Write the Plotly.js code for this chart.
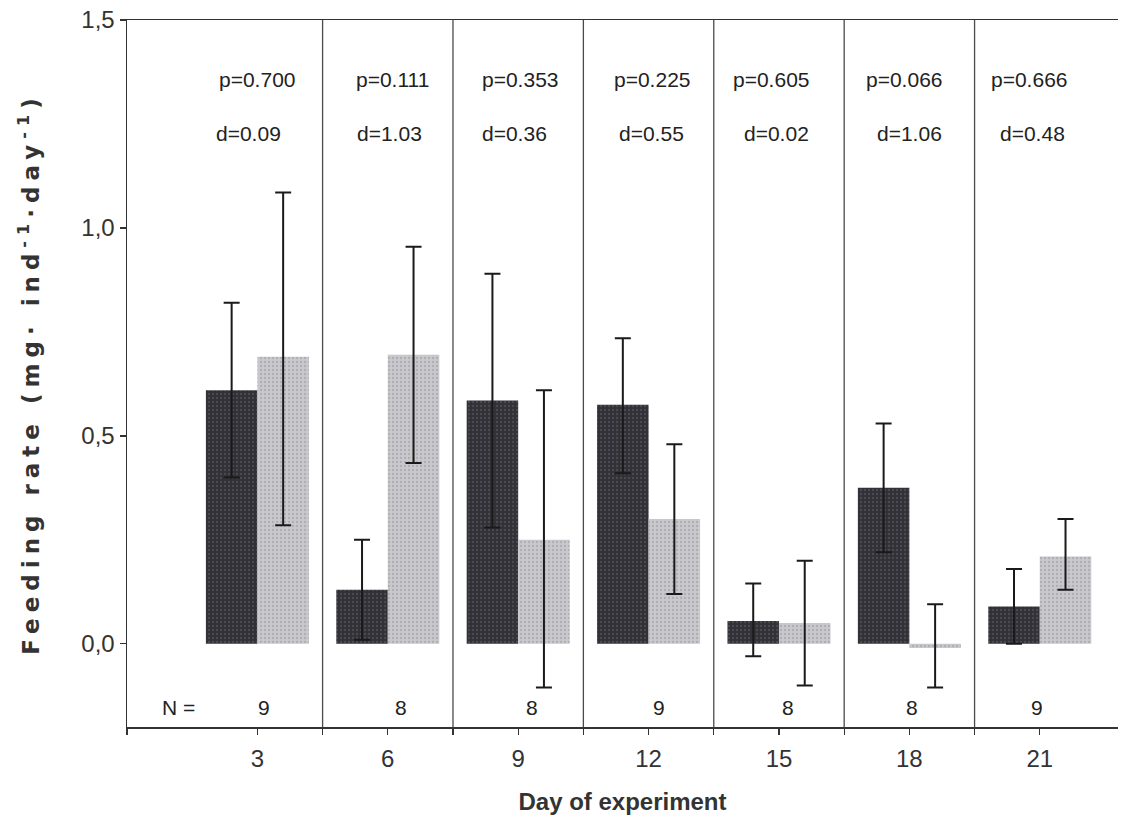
<!DOCTYPE html>
<html>
<head>
<meta charset="utf-8">
<script src="https://cdn.plot.ly/plotly-3.0.1.min.js"></script>
<style>html,body{margin:0;padding:0;background:#fff;}#chart{width:1135px;height:830px;}</style>
</head>
<body>
<div id="chart"></div>
<script>
// ---- data ----
const days = [3, 6, 9, 12, 15, 18, 21];
const darkMean  = [0.61, 0.13, 0.585, 0.575, 0.055, 0.375, 0.09];
const darkUpper = [0.82, 0.25, 0.89, 0.735, 0.145, 0.53, 0.18];
const darkLower = [0.40, 0.01, 0.28, 0.41, -0.03, 0.22, 0.0];
const lightMean  = [0.69, 0.695, 0.25, 0.30, 0.05, -0.01, 0.21];
const lightUpper = [1.085, 0.955, 0.61, 0.48, 0.20, 0.095, 0.30];
const lightLower = [0.285, 0.435, -0.105, 0.12, -0.10, -0.105, 0.13];
const pLabels = ['p=0.700', 'p=0.111', 'p=0.353', 'p=0.225', 'p=0.605', 'p=0.066', 'p=0.666'];
const dLabels = ['d=0.09', 'd=1.03', 'd=0.36', 'd=0.55', 'd=0.02', 'd=1.06', 'd=0.48'];
const nLabels = ['9', '8', '8', '9', '8', '8', '9'];
const separators = [4.5, 7.5, 10.5, 13.5, 16.5, 19.5];

// ---- layout helpers (positions, not data) ----
const pShift = [0, 5, 2, 4, -7, -5, -10];
const dShift = [-9, 2, -4, 3, -2, 0, -7];
const nShift = [7, 13, 14, 10, 9, 3, -3];

const sub = (a, b) => a.map((v, i) => v - b[i]);

const errStyle = {type: 'data', symmetric: false, color: '#1a1a1a', thickness: 2, width: 8};

const traces = [
  {
    type: 'bar', x: days, y: darkMean, name: 'dark',
    marker: {color: '#313137', line: {width: 0},
             pattern: {shape: '.', fillmode: 'replace', bgcolor: '#313137', fgcolor: '#4b4b52', size: 4, solidity: 0.25}},
    error_y: Object.assign({array: sub(darkUpper, darkMean), arrayminus: sub(darkMean, darkLower)}, errStyle),
    hoverinfo: 'x+y'
  },
  {
    type: 'bar', x: days, y: lightMean, name: 'light',
    marker: {color: '#c7c7cb', line: {width: 0},
             pattern: {shape: '.', fillmode: 'replace', bgcolor: '#c9c9cd', fgcolor: '#adadb3', size: 4, solidity: 0.25}},
    error_y: Object.assign({array: sub(lightUpper, lightMean), arrayminus: sub(lightMean, lightLower)}, errStyle),
    hoverinfo: 'x+y'
  }
];

const SANS = '"Liberation Sans", Arial, sans-serif';
const annFont = {family: SANS, size: 21, color: '#222'};
const annotations = [];
days.forEach((d, i) => {
  annotations.push({x: d, y: 1.356, xref: 'x', yref: 'y', text: pLabels[i], showarrow: false, xshift: pShift[i], font: annFont});
  annotations.push({x: d, y: 1.228, xref: 'x', yref: 'y', text: dLabels[i], showarrow: false, xshift: dShift[i], font: annFont});
  annotations.push({x: d, y: -0.152, xref: 'x', yref: 'y', text: nLabels[i], showarrow: false, xshift: nShift[i], font: annFont});
});
annotations.push({x: 0, y: -0.152, xref: 'x', yref: 'y', text: 'N =', showarrow: false, xshift: 51, font: annFont});

const shapes = separators.map(s => ({
  type: 'line', xref: 'x', yref: 'y', x0: s, x1: s, y0: -0.2, y1: 1.5,
  line: {color: '#4a4a4a', width: 1.3}
}));

const layout = {
  width: 1135, height: 830,
  margin: {l: 127, r: 17, t: 20, b: 103},
  paper_bgcolor: '#fff', plot_bgcolor: '#fff',
  separators: ',.',
  showlegend: false,
  barmode: 'group', bargap: 0.21, bargroupgap: 0,
  font: {family: SANS, color: '#333'},
  xaxis: {
    range: [0, 22.8], tickmode: 'array', tickvals: days,
    showline: true, linecolor: '#333', linewidth: 1.5, mirror: true,
    ticks: 'outside', ticklen: 6, tickwidth: 1.3, tickcolor: '#333',
    minor: {tickmode: 'array', tickvals: [0].concat(separators), ticks: 'outside', ticklen: 6, tickwidth: 1.3, tickcolor: '#333', showgrid: false},
    showgrid: false, zeroline: false,
    tickfont: {size: 24, color: '#333', family: SANS},
    ticklabelstandoff: 4,
    title: {text: 'Day of experiment', font: {size: 24, color: '#333', family: SANS, weight: 'bold'}, standoff: 22}
  },
  yaxis: {
    range: [-0.2, 1.5], tickmode: 'array', tickvals: [0, 0.5, 1, 1.5], tickformat: '.1f',
    showline: true, linecolor: '#333', linewidth: 1.5,
    ticks: 'outside', ticklen: 6, tickwidth: 1.3, tickcolor: '#333',
    showgrid: false, zeroline: false,
    tickfont: {size: 24, color: '#333', family: SANS},
    title: {text: '<span style="letter-spacing:6px">Feeding rate (mg· ind<sup>-1</sup>·day<sup>-1</sup>)</span>',
            font: {size: 23, color: '#333', family: '"DejaVu Sans", sans-serif', weight: 'bold'}, standoff: 35}
  },
  shapes: shapes,
  annotations: annotations
};

Plotly.newPlot('chart', traces, layout, {displayModeBar: false, staticPlot: true});
</script>
</body>
</html>
